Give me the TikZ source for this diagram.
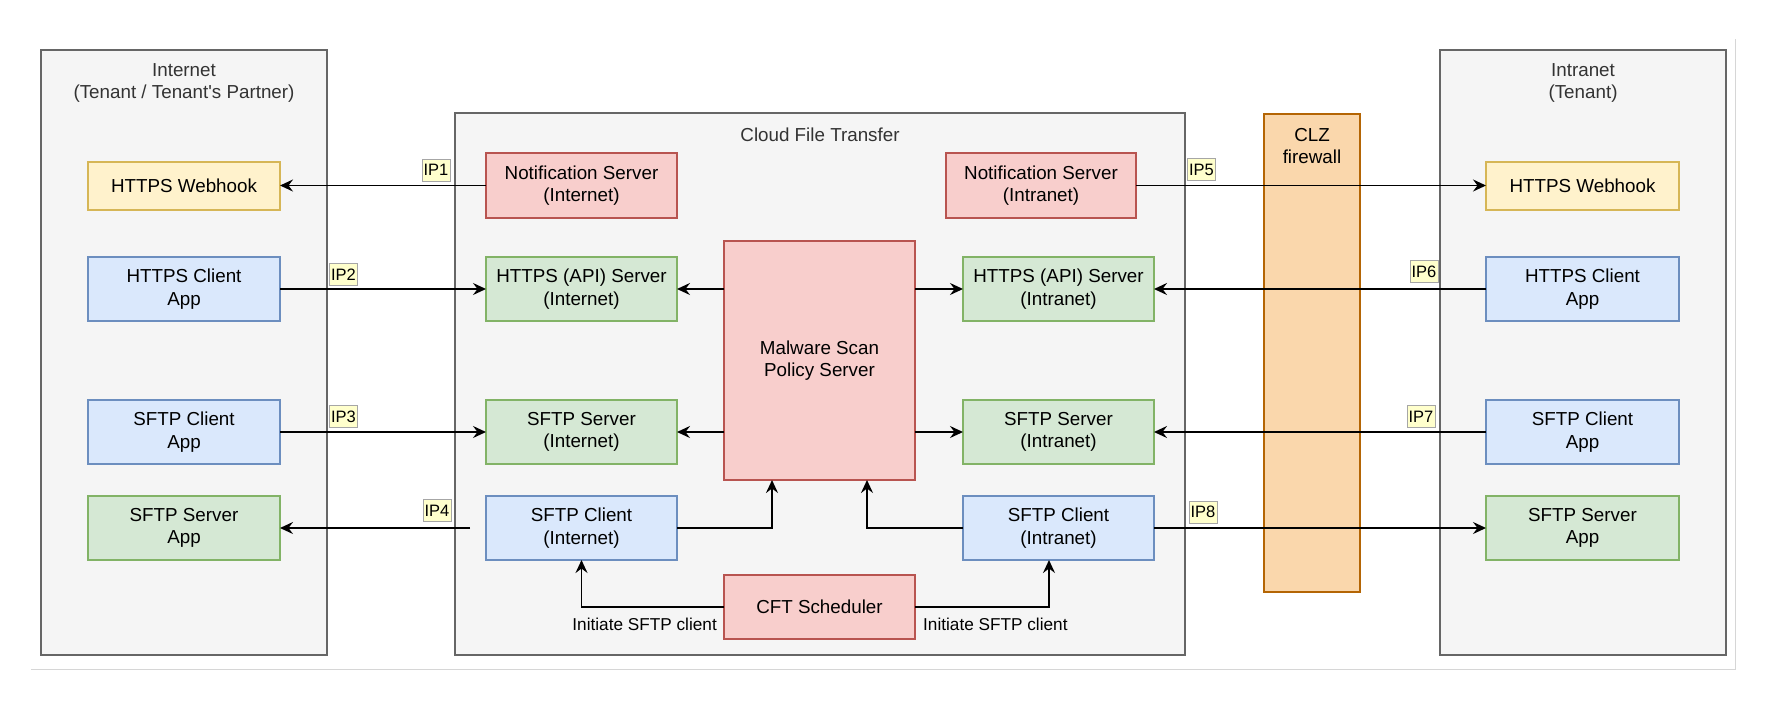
\documentclass[tikz,border=0pt]{standalone}
\usepackage{fontspec}
\setmainfont{Liberation Sans}
\usetikzlibrary{arrows.meta,calc}
\definecolor{grpfill}{HTML}{F5F5F5}
\definecolor{grpline}{HTML}{666666}
\definecolor{grptext}{HTML}{333333}
\definecolor{yelfill}{HTML}{FFF2CC}
\definecolor{yelline}{HTML}{D6B656}
\definecolor{blufill}{HTML}{DAE8FC}
\definecolor{bluline}{HTML}{6C8EBF}
\definecolor{grnfill}{HTML}{D5E8D4}
\definecolor{grnline}{HTML}{82B366}
\definecolor{redfill}{HTML}{F8CECC}
\definecolor{redline}{HTML}{B85450}
\definecolor{orafill}{HTML}{FAD7AC}
\definecolor{oraline}{HTML}{B46504}
\definecolor{ipfill}{HTML}{FFFFCC}
\definecolor{ipline}{HTML}{A6A6A6}
\definecolor{framec}{HTML}{D6D6D6}
\newcommand\dgmain{\fontsize{18.8}{22.5}\selectfont}
\newcommand\dgsmall{\fontsize{17.2}{20}\selectfont}
\newcommand\dgip{\fontsize{16.5}{18}\selectfont}
\begin{document}
\begin{tikzpicture}[x=1pt,y=-1pt,
  sz/.style 2 args={minimum width=#1,minimum height=#2},
  box/.style={draw,line width=1.3pt,inner sep=0pt,outer sep=0pt,align=center,font=\dgmain,text=black},
  grp/.style={box,fill=grpfill,draw=grpline,line width=1.5pt},
  grptitle/.style={align=center,font=\dgmain,text=grptext,inner sep=0pt},
  yel/.style={box,fill=yelfill,draw=yelline},
  blu/.style={box,fill=blufill,draw=bluline},
  grn/.style={box,fill=grnfill,draw=grnline},
  red/.style={box,fill=redfill,draw=redline},
  ora/.style={box,fill=orafill,draw=oraline},
  iplbl/.style={draw=ipline,fill=ipfill,line width=1pt,inner sep=0pt,minimum width=28,minimum height=22,font=\dgip,text=black},
  initlbl/.style={font=\dgsmall,text=black,inner sep=0pt},
  arr/.style={line width=1.9pt,draw=black,-{Stealth[length=13pt,width=12pt,inset=4.5pt]}}
]
\useasboundingbox (0,0) rectangle (1772,710);
% faint frame
\draw[framec,line width=1pt] (31,669) -- (1735,669) -- (1735,39);
% groups
\node[grp,sz={286}{605}] (inet) at (184,352.5) {};
\node[grptitle] (inett) at (184,83) {Internet\\(Tenant / Tenant\textquotesingle s Partner)};
\node[grp,sz={730}{542}] (cft) at (820,384) {};
\node[grptitle] (cftt) at (820,135) {Cloud File Transfer};
\node[grp,sz={286}{605}] (intr) at (1583,352.5) {};
\node[grptitle] (intrt) at (1583,83) {Intranet\\(Tenant)};
\node[ora,sz={96}{478}] (clz) at (1312,353) {};
\node[grptitle,text=black] (clzt) at (1312,146) {CLZ\\firewall};
% left column
\node[yel,sz={192}{48}] (whl) at (184,186) {HTTPS Webhook};
\node[blu,sz={192}{64}] (hcl) at (184,289) {HTTPS Client\\App};
\node[blu,sz={192}{64}] (scl) at (184,432) {SFTP Client\\App};
\node[grn,sz={192}{64}] (ssl) at (184,528) {SFTP Server\\App};
% cloud file transfer
\node[red,sz={191}{65}] (nsi) at (581.5,185.5) {Notification Server\\(Internet)};
\node[grn,sz={191}{64}] (hsi) at (581.5,289) {HTTPS (API) Server\\(Internet)};
\node[grn,sz={191}{64}] (ssi) at (581.5,432) {SFTP Server\\(Internet)};
\node[blu,sz={191}{64}] (sci) at (581.5,528) {SFTP Client\\(Internet)};
\node[red,sz={191}{239}] (mal) at (819.5,360.5) {Malware Scan\\Policy Server};
\node[red,sz={191}{64}] (sch) at (819.5,607) {CFT Scheduler};
\node[red,sz={190}{65}] (nsn) at (1041,185.5) {Notification Server\\(Intranet)};
\node[grn,sz={191}{64}] (hsn) at (1058.5,289) {HTTPS (API) Server\\(Intranet)};
\node[grn,sz={191}{64}] (ssn) at (1058.5,432) {SFTP Server\\(Intranet)};
\node[blu,sz={191}{64}] (scn) at (1058.5,528) {SFTP Client\\(Intranet)};
% right column
\node[yel,sz={193}{48}] (whr) at (1582.5,186) {HTTPS Webhook};
\node[blu,sz={193}{64}] (hcr) at (1582.5,289) {HTTPS Client\\App};
\node[blu,sz={193}{64}] (scr) at (1582.5,432) {SFTP Client\\App};
\node[grn,sz={193}{64}] (ssr) at (1582.5,528) {SFTP Server\\App};
% connectors
\draw[arr] (nsi.west) -- (nsi.west -| whl.east);
\draw[arr] (hcl.east) -- (hsi.west);
\draw[arr] (scl.east) -- (ssi.west);
\coordinate (c4) at ($(sci.west)+(-16,0)$);
\draw[arr] (c4) -- (c4 -| ssl.east);
\draw[arr] (nsn.east) -- (nsn.east -| whr.west);
\draw[arr] (hcr.west) -- (hsn.east);
\draw[arr] (scr.west) -- (ssn.east);
\draw[arr] (scn.east) -- (ssr.west);
\draw[arr] (hsi.east -| mal.west) -- (hsi.east);
\draw[arr] (hsn.west -| mal.east) -- (hsn.west);
\draw[arr] (ssi.east -| mal.west) -- (ssi.east);
\draw[arr] (ssn.west -| mal.east) -- (ssn.west);
\coordinate (m1) at ($(mal.south west)+(48,0)$);
\draw[arr] (sci.east) -| (m1);
\coordinate (m2) at ($(mal.south west)+(143,0)$);
\draw[arr] (scn.west) -| (m2);
\draw[arr] (sch.west) -| (sci.south);
\coordinate (s2) at ($(scn.south)+(-9.5,0)$);
\draw[arr] (sch.east) -| (s2);
% labels
\node[initlbl,anchor=east] (il1) at (717,624) {Initiate SFTP client};
\node[initlbl,anchor=west] (il2) at (923,624) {Initiate SFTP client};
\node[iplbl] (ip1) at (436,170) {IP1};
\node[iplbl] (ip2) at (343.5,274.5) {IP2};
\node[iplbl] (ip3) at (343.5,416.5) {IP3};
\node[iplbl] (ip4) at (437,510.5) {IP4};
\node[iplbl] (ip5) at (1201.5,169.5) {IP5};
\node[iplbl] (ip6) at (1424,271.5) {IP6};
\node[iplbl] (ip7) at (1421,416.5) {IP7};
\node[iplbl] (ip8) at (1203,512) {IP8};
\end{tikzpicture}
\end{document}
